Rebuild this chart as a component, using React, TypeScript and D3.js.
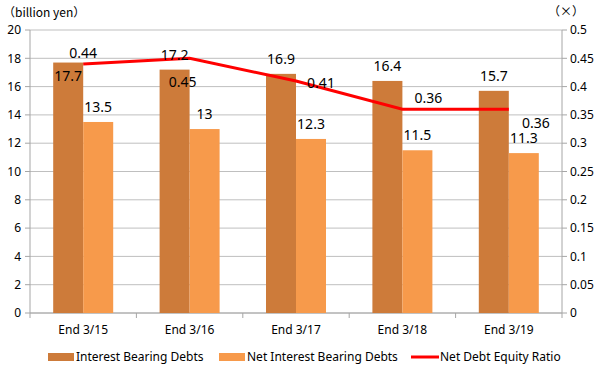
import React from "react";
import * as d3 from "d3";

const categories = ["End 3/15", "End 3/16", "End 3/17", "End 3/18", "End 3/19"];
const interestBearingDebts = [17.7, 17.2, 16.9, 16.4, 15.7];
const netInterestBearingDebts = [13.5, 13, 12.3, 11.5, 11.3];
const netDebtEquityRatio = [0.44, 0.45, 0.41, 0.36, 0.36];
const leftTicks = [0, 2, 4, 6, 8, 10, 12, 14, 16, 18, 20];
const rightTicks = [0, 0.05, 0.1, 0.15, 0.2, 0.25, 0.3, 0.35, 0.4, 0.45, 0.5];
// label placement for ratio labels (dx, dy relative to the point)
const ratioLabelPlacement = [
  [0, -11],
  [-7, 24],
  [25, 2],
  [26, -11],
  [27, 14],
];
// label placement for dark bars: "inside" or "above"
const darkLabelInside = [true, false, false, false, false];

const W = 608;
const H = 376;
const left = 30;
const right = 562;
const top = 30;
const bottom = 313;

const DARK = "#cd7b3a";
const LIGHT = "#f79a4b";
const RED = "#ff0000";
const FONT = "'Noto Sans', 'Liberation Sans', sans-serif";

export default function App() {
  const x = d3.scaleBand<string>().domain(categories).range([left, right]);
  const yL = d3.scaleLinear().domain([0, 20]).range([bottom, top]);
  const yR = d3.scaleLinear().domain([0, 0.5]).range([bottom, top]);
  const barW = 30;
  const cx = (c: string) => (x(c) as number) + x.bandwidth() / 2;

  const line = d3
    .line<number>()
    .x((_, i) => cx(categories[i]))
    .y((d) => yR(d));

  return (
    <svg
      width={W}
      height={H}
      style={{ position: "absolute", left: 0, top: 0, background: "#fff" }}
      fontFamily={FONT}
    >
      {/* grid */}
      {leftTicks.map((t) => (
        <line key={"g" + t} x1={left} x2={right} y1={yL(t)} y2={yL(t)} stroke="#bfbfbf" strokeWidth={1} />
      ))}
      {/* left axis */}
      <line x1={left} x2={left} y1={top} y2={bottom} stroke="#a6a6a6" />
      {leftTicks.map((t) => (
        <g key={"l" + t}>
          <line x1={left - 5} x2={left} y1={yL(t)} y2={yL(t)} stroke="#a6a6a6" />
          <text x={left - 9} y={yL(t)} dy="0.35em" textAnchor="end" fontSize={12} fill="#000">
            {t}
          </text>
        </g>
      ))}
      {/* right axis */}
      <line x1={right} x2={right} y1={top} y2={bottom} stroke="#a6a6a6" />
      {rightTicks.map((t) => (
        <g key={"r" + t}>
          <line x1={right} x2={right + 5} y1={yR(t)} y2={yR(t)} stroke="#a6a6a6" />
          <text x={right + 8} y={yR(t)} dy="0.35em" textAnchor="start" fontSize={12} fill="#000">
            {d3.format("~g")(t)}
          </text>
        </g>
      ))}
      {/* bottom axis */}
      <line x1={left} x2={right} y1={bottom} y2={bottom} stroke="#a6a6a6" />
      {categories.map((c) => (
        <line key={"bt" + c} x1={x(c) as number} x2={x(c) as number} y1={bottom} y2={bottom + 5} stroke="#a6a6a6" />
      ))}
      <line x1={right} x2={right} y1={bottom} y2={bottom + 5} stroke="#a6a6a6" />
      {categories.map((c) => (
        <text key={"cl" + c} x={cx(c)} y={330} dy="0.35em" textAnchor="middle" fontSize={12} fill="#000">
          {c}
        </text>
      ))}

      {/* bars */}
      {categories.map((c, i) => (
        <g key={"b" + c}>
          <rect
            x={cx(c) - barW}
            y={yL(interestBearingDebts[i])}
            width={barW}
            height={bottom - yL(interestBearingDebts[i])}
            fill={DARK}
          />
          <rect
            x={cx(c)}
            y={yL(netInterestBearingDebts[i])}
            width={barW}
            height={bottom - yL(netInterestBearingDebts[i])}
            fill={LIGHT}
          />
        </g>
      ))}

      {/* line */}
      <path d={line(netDebtEquityRatio) || ""} fill="none" stroke={RED} strokeWidth={3} />

      {/* bar labels */}
      {categories.map((c, i) => (
        <g key={"bl" + c} fontSize={14} fill="#000">
          <text
            x={cx(c) - barW / 2}
            y={yL(interestBearingDebts[i]) + (darkLabelInside[i] ? 14 : -15)}
            dy="0.35em"
            textAnchor="middle"
          >
            {interestBearingDebts[i]}
          </text>
          <text
            x={cx(c) + barW / 2}
            y={yL(netInterestBearingDebts[i]) - 15}
            dy="0.35em"
            textAnchor="middle"
          >
            {netInterestBearingDebts[i]}
          </text>
        </g>
      ))}

      {/* ratio labels */}
      {categories.map((c, i) => (
        <text
          key={"rl" + c}
          x={cx(c) + ratioLabelPlacement[i][0]}
          y={yR(netDebtEquityRatio[i]) + ratioLabelPlacement[i][1]}
          dy="0.35em"
          textAnchor="middle"
          fontSize={14}
          fill="#000"
        >
          {netDebtEquityRatio[i]}
        </text>
      ))}

      {/* unit labels */}
      <text x={3} y={13} dy="0.35em" fontSize={12} fill="#000" fontFamily="'Noto Sans CJK JP', sans-serif">
        （billion yen）
      </text>
      <text x={548} y={12} dy="0.35em" fontSize={12} fill="#000" fontFamily="'Noto Sans CJK JP', sans-serif">
        （×）
      </text>

      {/* legend */}
      <rect x={48} y={353} width={26} height={8} fill={DARK} />
      <text x={76} y={357} dy="0.35em" fontSize={12} fill="#000">
        Interest Bearing Debts
      </text>
      <rect x={219} y={353} width={26} height={8} fill={LIGHT} />
      <text x={247} y={357} dy="0.35em" fontSize={12} fill="#000">
        Net Interest Bearing Debts
      </text>
      <line x1={411} x2={439} y1={357} y2={357} stroke={RED} strokeWidth={3} />
      <text x={440} y={357} dy="0.35em" fontSize={12} fill="#000">
        Net Debt Equity Ratio
      </text>
    </svg>
  );
}
